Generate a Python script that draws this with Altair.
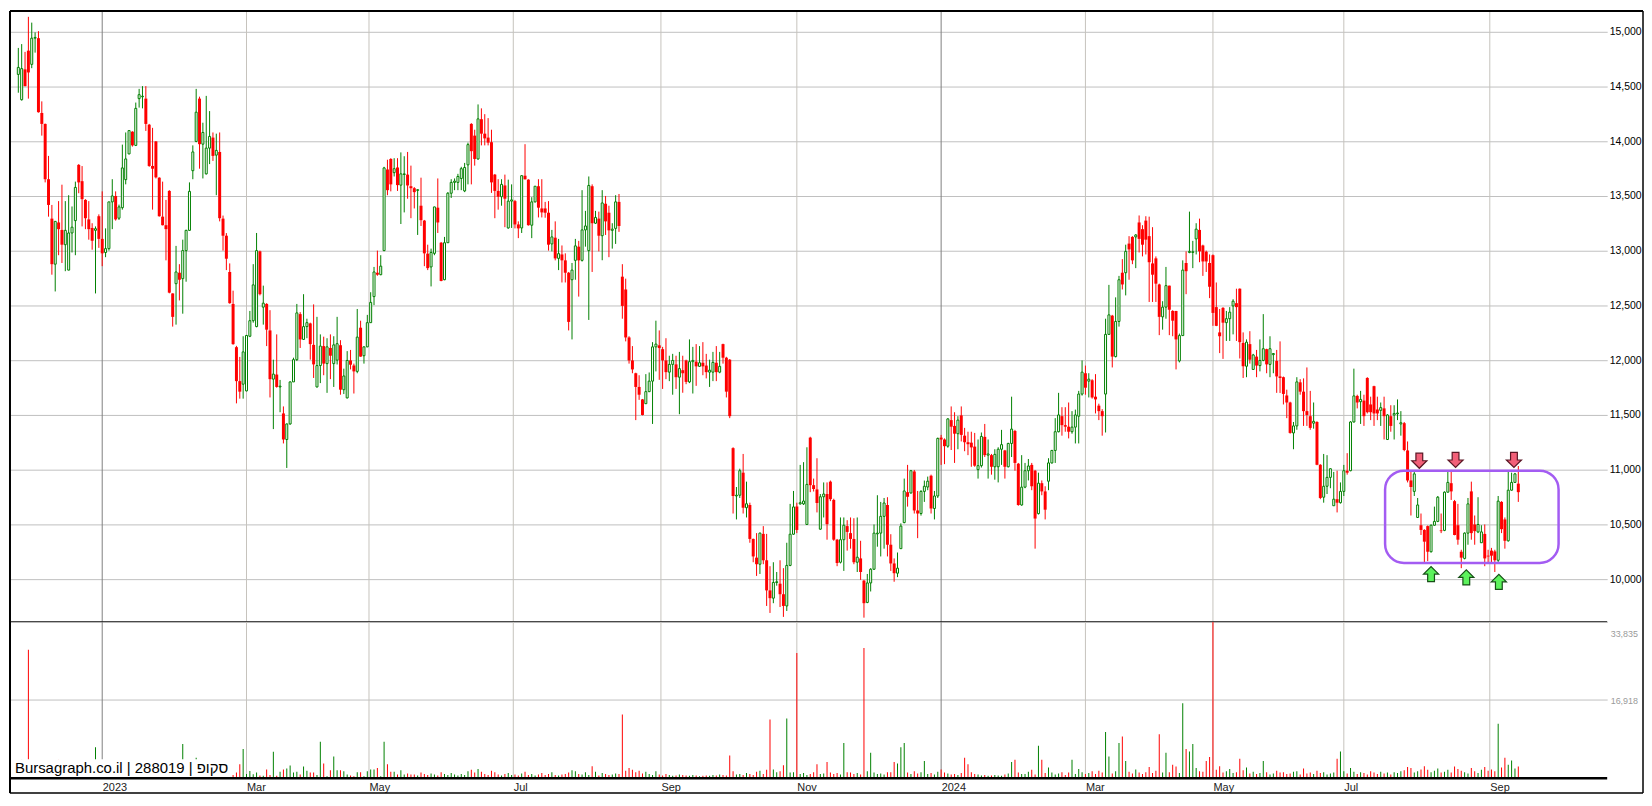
import altair as alt
import pandas as pd

# ---------------- data ----------------
opens = [14609,14378,14655,14826,14701,14940,14940,14257,14157,13652,
13292,12876,13257,13189,13054,12822,13161,13274,13783,13634,
13463,13285,13207,13185,13314,13107,12983,13018,13445,13499,
13296,13392,13648,13883,14086,13961,14388,14405,14388,14150,
13773,13997,13666,13310,13232,13545,12609,12698,12798,12744,
13000,13185,13730,13997,14388,13972,13701,13936,14032,13872,
13901,13292,13136,12805,12513,12118,11808,11780,11719,12218,
12360,12306,12993,12484,12513,12271,11826,11868,11755,11513,
11275,11417,11801,12004,12420,12189,12306,12335,12139,11755,
11950,12128,11968,12111,11968,12000,12136,11730,11655,11997,
11951,11897,12296,12040,12121,12342,12580,12798,12780,13000,
13741,13837,13712,13759,13598,13695,13694,13588,13570,13550,
13410,13274,12972,12851,12975,13392,13072,12734,13072,13524,
13623,13623,13659,13545,13783,14157,14050,13837,14200,14068,
14032,13990,13694,13545,13492,13595,13207,13452,13452,13239,
13207,13684,13648,13232,13445,13588,13385,13385,13346,13061,
13118,12929,12965,12911,12798,12734,12911,13036,12911,13189,
13000,13588,13250,13292,13136,13428,13346,13185,13203,13445,
12762,12645,12207,11997,11880,11755,11641,11602,11712,11808,
12121,12135,12100,11997,11890,11961,11961,11844,11908,11997,
11801,11986,11986,11943,11976,11950,11890,11890,11976,11890,
12146,12022,12004,11196,10759,10766,10972,10652,10677,10367,
10196,10136,10413,10172,9897,9826,9969,9958,9862,9755,
10125,10410,10663,10687,10687,10499,11292,10858,10819,10456,
10752,10777,10890,10723,10360,10154,10360,10484,10420,10367,
10154,10189,9986,9787,9965,10090,10413,10420,10573,10677,
10314,10143,10054,10278,10516,10794,10787,10983,10627,10599,
10801,10841,10944,10645,10759,11292,11275,11214,11452,11399,
11328,11495,11310,11250,11246,11210,11000,11036,11299,11132,
11132,11026,11026,11186,11175,11026,11239,11353,11054,10677,
10840,10990,11043,10990,10598,10876,10801,10894,11061,11175,
11346,11488,11406,11392,11346,11388,11488,11690,11880,11808,
11816,11666,11584,11534,11690,12235,12406,12032,12353,12798,
12798,13064,13125,13125,13257,13196,13274,13132,12883,12929,
12691,12395,12484,12680,12449,12449,11993,12224,12887,12983,
12983,13107,13189,13047,12990,12887,12958,12484,12253,12477,
12342,12378,12495,12520,12652,12157,11944,12146,11915,12032,
11950,11997,12100,11961,12050,11993,11851,11844,11677,11613,
11335,11399,11797,11712,11534,11488,11424,11435,11044,10748,
10848,10929,10670,10730,10698,10801,10990,10990,11435,11673,
11620,11630,11837,11595,11762,11549,11541,11559,11275,11488,
11499,11510,11417,11424,11175,10901,10801,10563,10492,10449,
10484,10250,10492,10527,10445,10445,10794,10876,10712,10492,
10250,10189,10420,10801,10499,10431,10332,10413,10214,10260,
10253,10172,10705,10545,10350,10812,10883,10872]

highs = [14851,14886,14815,15135,15082,14993,15004,14363,14160,13865,
13417,13267,13452,13602,13452,13506,13403,13630,13790,13772,
13470,13452,13250,13221,13331,13541,13203,13445,13652,13541,
13420,13968,14079,14100,14090,14352,14477,14502,14502,14157,
14121,14000,13670,13630,13463,13552,12610,13043,12876,13100,
13190,13623,13961,14477,14406,14168,14413,14274,14079,14068,
14079,13320,13160,12883,12634,12130,12029,12218,12230,12449,
12876,13161,13000,12680,12520,12456,12004,12235,11819,11577,
11420,11805,12022,12513,12438,12602,12378,12342,12509,12395,
12235,12214,12200,12235,12218,12395,12182,11922,12082,12093,
11968,12467,12360,12125,12413,12620,12851,13000,12958,13765,
13830,13844,13844,13844,13897,13862,13901,13776,13580,13560,
13666,13280,13054,13018,13400,13659,13079,13125,13534,13652,
13659,13701,13765,13801,13986,14164,14104,14335,14299,14246,
14210,14104,13700,13652,13652,13694,13648,13605,13463,13267,
13690,13972,13652,13488,13590,13652,13652,13445,13452,13189,
13267,13107,13047,12975,12805,12887,13107,13089,13552,13363,
13677,13605,13363,13356,13552,13499,13410,13250,13506,13517,
12876,12744,12218,12128,11885,11862,11645,11872,11887,12164,
12360,12271,12121,12200,12040,12057,12040,12075,12040,12004,
12189,12121,12146,12128,12164,12057,12004,12075,12128,12075,
12150,12030,12010,11204,10841,11008,11143,10890,10698,10370,
10420,10425,10484,10413,10118,10154,10065,10172,10100,10332,
10687,10805,10698,11043,11068,11204,11300,10918,11104,10777,
10883,10883,10900,10734,10367,10563,10563,10538,10563,10556,
10563,10350,9993,10047,10100,10499,10766,10705,10741,10748,
10410,10189,10243,10509,10918,11043,10997,10997,10805,10812,
10900,10936,10954,10805,11292,11317,11285,11470,11577,11524,
11488,11577,11381,11346,11346,11335,11275,11339,11417,11275,
11143,11186,11204,11363,11180,11245,11666,11363,11061,11132,
11061,11097,11061,10997,10972,10901,10848,11104,11180,11470,
11701,11570,11570,11613,11534,11548,11719,11997,11950,11880,
11826,11872,11602,11552,12378,12687,12413,12573,12769,12922,
13054,13132,13132,13150,13321,13232,13314,13310,13214,12947,
12698,12538,12851,12680,12456,12449,12242,12911,12993,13356,
13089,13250,13292,13054,13000,12965,12965,12709,12467,12484,
12449,12484,12556,12652,12655,12253,12189,12264,12057,12093,
12189,12420,12104,12218,12065,12093,12171,11850,11730,11620,
11435,11844,11826,11833,11933,11719,11613,11442,11050,11143,
11132,11010,10979,10990,10883,11043,11150,11442,11922,11684,
11719,11684,11844,11666,11766,11666,11613,11666,11506,11588,
11588,11641,11534,11435,11257,10990,10990,10741,10599,10456,
10490,10499,10662,10759,10599,10801,10983,10997,10723,10687,
10268,10427,10741,10890,10581,10748,10492,10499,10268,10285,
10268,10759,10712,10563,10979,10972,10970,11033]

lows = [14442,14370,14500,14388,14666,14808,14260,14050,13623,13310,
12780,12627,12958,12887,12812,12820,12983,12958,13524,13221,
13196,13100,13008,12609,13025,12858,12940,13000,13196,13274,
13280,13374,13605,13880,13950,13955,14306,14299,14093,13765,
13374,13659,13310,13230,12911,12610,12306,12324,12545,12424,
12716,13180,13652,13990,13748,13659,13695,13790,13819,13506,
13267,13000,12822,12515,12140,11605,11648,11648,11715,12210,
12342,12300,12591,12324,12128,11659,11370,11748,11524,11239,
11015,11410,11800,11993,12111,12185,12200,12004,11837,11750,
11790,11862,11701,11826,11755,11960,11684,11690,11650,11915,
11695,11880,12030,11968,12118,12340,12502,12770,12775,12995,
13506,13541,13677,13545,13243,13349,13474,13296,13385,13143,
13225,12858,12822,12673,12958,13161,12720,12730,13070,13481,
13552,13552,13552,13534,13605,13605,13776,13830,13961,13961,
13961,13527,13296,13374,13410,13214,13200,13207,13203,13114,
13161,13648,13228,13114,13440,13303,13303,13300,13000,12993,
12911,12822,12709,12709,12271,12189,12734,12580,12900,13036,
12367,12805,13243,12993,12912,13143,12940,13018,13061,13171,
12378,12171,11968,11880,11452,11637,11495,11600,11708,11417,
11897,11820,11737,11826,11808,11684,11737,11506,11702,11780,
11790,11695,11765,11940,11862,11833,11755,11808,11808,11880,
11968,11659,11470,10599,10545,10741,10599,10563,10332,10154,
10029,10047,10136,9755,9691,9780,9940,9745,9655,9709,
10118,10405,10420,10680,10677,10495,10794,10800,10609,10450,
10563,10360,10712,10350,10118,10143,10075,10260,10278,10136,
10065,9993,9648,9780,9887,10085,10296,10207,10278,10207,
10075,9976,10018,10275,10510,10662,10780,10599,10374,10580,
10705,10812,10599,10545,10741,11043,11050,11200,11179,11061,
11186,11257,11168,11132,11026,11026,10918,11019,11115,10918,
10954,10908,10883,11043,10918,11020,11115,10990,10670,10670,
10830,10901,10812,10278,10590,10766,10545,10812,11055,11061,
11340,11310,11346,11285,11328,11239,11239,11676,11684,11659,
11648,11513,11452,11310,11339,12230,11933,12025,12306,12645,
12591,12734,12876,12840,12983,12947,12965,12531,12531,12531,
12228,12278,12378,12228,12218,11915,11979,12220,12602,12976,
12840,12965,12894,12769,12805,12566,12313,12310,12064,12011,
12175,12175,12235,12175,12015,11837,11844,11968,11910,11844,
11897,11990,11880,11844,11880,11701,11700,11595,11470,11328,
11186,11364,11684,11399,11399,11364,11374,11040,10730,10698,
10777,10830,10670,10609,10690,10759,10954,10985,11430,11559,
11417,11399,11513,11452,11399,11452,11399,11275,11270,11346,
11275,11452,11310,11168,10883,10581,10759,10560,10403,10154,
10164,10243,10488,10520,10420,10438,10790,10723,10400,10314,
10100,10180,10314,10360,10314,10420,10330,10118,10143,10154,
10065,10143,10420,10278,10342,10808,10880,10705]

closes = [14673,14662,14502,14627,14940,14947,14264,14157,13652,13417,
12876,13267,13196,13054,13185,13161,13214,13577,13623,13470,
13296,13196,13090,13200,13107,12975,13018,13445,13499,13285,
13399,13755,13837,14096,13961,14299,14424,14410,14157,13773,
13748,13669,13314,13232,13196,12616,12395,12805,12734,13000,
13185,13541,13901,14264,13972,14079,13936,14043,13865,13915,
13296,13136,12926,12520,12146,11808,11712,12075,12225,12360,
12687,13000,12602,12520,12278,11826,11872,11755,11762,11275,
11417,11801,12004,12431,12189,12306,12342,12146,11961,11950,
12128,11968,12121,12040,12139,12150,11730,11855,11997,11958,
11897,12210,12032,12121,12342,12527,12805,12780,12858,13755,
13552,13605,13748,13598,13701,13701,13595,13570,13534,13556,
13278,12975,12840,12983,13399,13257,12723,13072,13524,13623,
13634,13677,13748,13759,13968,13908,13837,14203,14068,14025,
13986,13623,13545,13492,13605,13474,13452,13463,13239,13203,
13684,13652,13232,13445,13588,13392,13349,13346,13054,13125,
12929,12972,12911,12798,12349,12822,13043,12911,13189,13225,
13595,13250,13303,13136,13435,13267,13185,13196,13445,13225,
12495,12207,11997,11915,11755,11684,11499,11712,11808,12121,
12146,12110,11997,11890,11961,11997,11844,11922,11880,11801,
11986,11997,11943,11976,11943,11890,11908,11979,11890,11943,
12022,11712,11488,10759,10766,10990,10652,10688,10367,10207,
10136,10420,10172,9897,9826,9969,9976,9862,9755,10125,
10410,10659,10449,10698,10713,10865,10858,10823,10695,10752,
10777,10502,10730,10360,10147,10360,10492,10431,10367,10154,
10200,10065,9780,9965,10090,10420,10420,10573,10695,10314,
10143,10054,10100,10484,10805,10752,10990,10627,10599,10801,
10848,10894,10645,10759,11285,11275,11214,11463,11392,11328,
11452,11317,11250,11232,11203,11036,11036,11303,11132,11143,
11026,11139,11186,11228,11026,11239,11370,11061,10677,10840,
10990,11033,10848,10553,10876,10801,10634,11061,11175,11346,
11499,11406,11392,11346,11388,11499,11690,11890,11748,11826,
11659,11641,11534,11488,12235,12413,12032,12353,12734,12691,
12993,13011,12911,13143,13107,13054,13100,12894,12780,12698,
12395,12484,12680,12460,12360,12189,12224,12822,12812,12993,
12990,13196,12993,12901,12901,12670,12431,12313,12218,12342,
12378,12438,12538,12484,12164,11944,12164,12004,12047,11950,
11997,12104,11961,12104,12060,11851,11837,11691,11613,11335,
11399,11801,11712,11534,11499,11381,11441,11044,10741,10848,
10929,11008,10730,10698,10801,10990,10972,11435,11673,11613,
11641,11488,11524,11524,11513,11513,11566,11488,11499,11399,
11513,11517,11428,11179,10901,10841,10961,10677,10449,10342,
10250,10492,10527,10748,10438,10794,10883,10801,10403,10360,
10196,10420,10687,10420,10438,10499,10431,10189,10207,10214,
10172,10712,10456,10350,10812,10883,10961,10794]

volumes = [1400,4000,900,27800,700,600,800,500,900,600,700,800,4000,900,700,600,1100,800,600,700,
900,600,800,6700,1200,700,900,600,800,1000,700,900,600,1100,800,700,900,600,700,800,
600,900,700,800,600,1000,700,900,800,7400,1100,900,700,4400,800,600,900,700,600,800,
700,900,600,800,700,1200,3000,6300,900,1550,850,1200,600,500,1900,700,5700,500,1400,1900,
2100,2750,1200,1400,800,2500,1600,1200,1200,700,7900,3200,400,1700,4700,1700,1700,1500,800,600,
400,1300,1300,400,1500,1900,1900,2200,400,7900,3000,1400,1400,800,1700,800,1000,800,800,600,
1200,900,700,1000,800,600,1300,900,700,1100,800,600,900,700,1500,1800,1200,2000,1400,900,
700,1600,1300,800,600,900,1100,700,800,600,1000,1400,700,900,600,800,1100,700,900,1300,
700,600,800,900,1200,1700,1500,900,800,1300,700,2600,1400,600,1100,900,700,800,1000,900,
13800,1600,2200,1800,1300,1600,1000,1400,900,700,1500,800,600,900,700,500,600,800,700,600,
500,700,600,400,500,600,500,700,600,800,700,600,4900,1500,800,900,700,1100,900,700,
1400,1600,900,1800,12700,1900,1300,1500,2800,12900,1200,1300,27100,900,1100,700,900,1300,3000,900,
1000,3500,1200,900,1100,800,7600,1300,1200,900,1100,800,28200,1500,5500,1200,900,1000,800,1300,
1300,3500,3200,6700,7600,1200,900,1500,1000,1300,3700,900,1100,800,1400,1900,1200,1000,800,900,
700,1100,4400,3000,1300,900,800,600,700,500,600,700,600,500,800,1000,3500,4000,1200,900,
900,1400,1800,800,7000,4000,1100,2300,1200,800,1000,1300,700,1200,4000,900,2000,1300,900,1100,
1500,900,1600,1200,10000,4700,1000,1500,7600,9000,3700,1400,1000,1900,1200,900,1300,2400,1100,1600,
9500,1200,5500,1300,2900,2500,1100,16200,6300,5800,7400,2200,1500,1400,3700,4600,33835,1800,2600,1200,
1500,2000,1100,1300,4200,1700,2300,1000,1400,900,1100,3700,1300,800,1000,1600,1200,1300,900,1000,
1400,1500,800,2100,1000,1200,900,1600,1100,1300,800,1000,1200,4200,5800,1500,1000,2200,1400,900,
1300,1100,800,1500,1200,900,1400,1000,1200,800,1300,1100,1500,1700,2400,2200,1200,1500,1900,2600,
1800,1300,1600,2100,1200,1400,1800,1200,2500,2000,1600,1300,1000,2200,1500,1100,1800,2400,1600,1900,
1500,11800,2300,4400,2900,3800,2100,2500]

# month boundaries (trading-day index) and their labels
month_pos = [25, 68, 104.5, 147.5, 191.5, 232, 275, 318, 356, 395, 438.5]
month_labels = ["2023", "Mar", "May", "Jul", "Sep", "Nov", "2024", "Mar", "May", "Jul", "Sep"]
month_kind = ["year", "month", "month", "month", "month", "month", "year", "month", "month", "month", "month"]

price_ticks = [10000, 10500, 11000, 11500, 12000, 12500, 13000, 13500, 14000, 14500, 15000]
vol_ticks = [16918, 33835]

# annotation: range box and arrows
box_x = [407.3, 459.0]
box_y = [10147, 10990]
down_arrow_x = [417.5, 428.3, 445.7]
down_arrow_y = [11081, 11088, 11088]
up_arrow_x = [421.0, 431.5, 441.2]
up_arrow_y = [10046, 10016, 9975]

watermark = "Bursagraph.co.il | 288019 | סקופ"

# ---------------- build ----------------
N = len(closes)
assert all(len(a) == N for a in (opens, highs, lows, volumes)), [len(a) for a in (opens, highs, lows, closes, volumes)]

df = pd.DataFrame({"i": list(range(N)), "open": opens, "high": highs, "low": lows,
                   "close": closes, "vol": volumes})
df["dir"] = ["up" if c >= o else "down" for o, c in zip(opens, closes)]
months = pd.DataFrame({"pos": month_pos, "label": month_labels, "kind": month_kind})
box_df = pd.DataFrame({"x1": [box_x[0]], "x2": [box_x[1]], "y1": [box_y[0]], "y2": [box_y[1]]})
down_df = pd.DataFrame({"x": down_arrow_x, "y": down_arrow_y})
up_df = pd.DataFrame({"x": up_arrow_x, "y": up_arrow_y})
one = pd.DataFrame({"k": [0]})

GREEN = "#008000"
RED = "#ff0000"
FONT = "Liberation Sans"
W, HP, HV = 1605, 614, 157
RB = W + 36  # outer right border

xs = alt.Scale(domain=[-1, 472], nice=False, zero=False)
ys_p = alt.Scale(domain=[9609, 15189], nice=False, zero=False)
ys_v = alt.Scale(domain=[0, 33835], nice=False)

yax_p = alt.Axis(orient="right", values=price_ticks, format=",d", grid=True,
                 gridColor="#bfbfbf", gridWidth=1, ticks=False, domain=False,
                 labelPadding=2, labelFont=FONT, labelFontSize=10.5,
                 labelColor="#000000", title=None)
yax_v = alt.Axis(orient="right", values=vol_ticks, format=",d", grid=True,
                 gridColor="#bfbfbf", gridWidth=1, ticks=False, domain=False,
                 labelPadding=3, labelFont=FONT, labelFontSize=9,
                 labelColor="#9a9a9a", title=None,
                 labelOffset=alt.condition("datum.value > 20000", alt.value(12), alt.value(0)))

label_expr = ""
for p, l in zip(month_pos, month_labels):
    label_expr += f"datum.value == {p} ? '{l}' : "
label_expr += "''"
xax_v = alt.Axis(values=month_pos, labelExpr=label_expr, labelAlign="left",
                 labelBaseline="top", labelPadding=3, ticks=False, domain=False,
                 grid=False, labelFont=FONT, labelFontSize=11, labelColor="#222222",
                 labelFlush=False, labelOverlap=False, title=None)

dir_color = alt.condition("datum.dir == 'up'", alt.value(GREEN), alt.value(RED))
grid_color = alt.condition("datum.kind == 'year'", alt.value("#808080"), alt.value("#c6c3bc"))


def hline(y, x1, x2, w=1.0):
    return alt.Chart(one).mark_rule(color="black", strokeWidth=w).encode(
        x=alt.value(x1), x2=alt.value(x2), y=alt.value(y))


def vline(x, y1, y2, w=1.0):
    return alt.Chart(one).mark_rule(color="black", strokeWidth=w).encode(
        x=alt.value(x), y=alt.value(y1), y2=alt.value(y2))


# ---- price panel ----
p_grid = alt.Chart(months).mark_rule(strokeWidth=1).encode(
    x=alt.X("pos:Q", scale=xs, axis=None), color=grid_color)

base = alt.Chart(df)
wicks = base.mark_rule(strokeWidth=1).encode(
    x=alt.X("i:Q", scale=xs, axis=None),
    y=alt.Y("low:Q", scale=ys_p, axis=yax_p), y2="high:Q", color=dir_color)
up_body = base.transform_filter("datum.dir == 'up'").mark_bar(
    size=2, fill="white", stroke=GREEN, strokeWidth=1).encode(
    x=alt.X("i:Q", scale=xs, axis=None),
    y=alt.Y("open:Q", scale=ys_p, axis=yax_p), y2="close:Q")
down_body = base.transform_filter("datum.dir == 'down'").mark_bar(
    size=3, fill=RED, strokeWidth=0).encode(
    x=alt.X("i:Q", scale=xs, axis=None),
    y=alt.Y("open:Q", scale=ys_p, axis=yax_p), y2="close:Q")

box = alt.Chart(box_df).mark_rect(fill="white", fillOpacity=0, stroke="#a35cf2",
                                   strokeWidth=2.5, cornerRadius=19).encode(
    x=alt.X("x1:Q", scale=xs, axis=None), x2="x2:Q",
    y=alt.Y("y1:Q", scale=ys_p, axis=yax_p), y2="y2:Q")

DOWN = "M-0.45,-1L0.45,-1L0.45,0L1,0L0,1L-1,0L-0.45,0Z"
UP = "M-0.45,1L0.45,1L0.45,0L1,0L0,-1L-1,0L-0.45,0Z"
down_arrows = alt.Chart(down_df).mark_point(
    shape=DOWN, size=230, filled=True, fill="#f25f78", stroke="#5a1624",
    strokeWidth=1.2, opacity=1).encode(
    x=alt.X("x:Q", scale=xs, axis=None), y=alt.Y("y:Q", scale=ys_p, axis=yax_p))
up_arrows = alt.Chart(up_df).mark_point(
    shape=UP, size=230, filled=True, fill="#5cf25c", stroke="#174f17",
    strokeWidth=1.2, opacity=1).encode(
    x=alt.X("x:Q", scale=xs, axis=None), y=alt.Y("y:Q", scale=ys_p, axis=yax_p))

price = alt.layer(
    p_grid, wicks, up_body, down_body, box, down_arrows, up_arrows,
    hline(0, 0, RB, 2), vline(0, 0, HP, 2), vline(RB, 0, HP, 1.5), hline(HP, 0, W, 1.2),
).properties(width=W, height=HP)

# ---- volume panel ----
v_grid = alt.Chart(months).mark_rule(strokeWidth=1).encode(
    x=alt.X("pos:Q", scale=xs, axis=xax_v), color=grid_color)
vol = base.mark_bar(size=1).encode(
    x=alt.X("i:Q", scale=xs, axis=xax_v),
    y=alt.Y("vol:Q", scale=ys_v, axis=yax_v), color=dir_color)
wm_bg = alt.Chart(one).mark_rect(fill="white").encode(
    x=alt.value(1), x2=alt.value(222), y=alt.value(HV - 19), y2=alt.value(HV))
wm = alt.Chart(one).mark_text(align="left", baseline="alphabetic", font=FONT,
                              fontSize=15, color="black").encode(
    x=alt.value(5), y=alt.value(HV - 5), text=alt.value(watermark))

volume = alt.layer(
    v_grid, vol, wm_bg, wm,
    vline(0, 0, HV + 15, 2), vline(RB, 0, HV + 15, 1.5), hline(HV, 0, W, 2.5),
    hline(HV + 15, 0, RB, 1.5),
).properties(width=W, height=HV)

chart = alt.vconcat(price, volume, spacing=0, bounds="flush").properties(
    padding=0, background="white"
).configure_view(stroke=None)

chart.save("out.html", embed_options={"renderer": "svg", "actions": False})
